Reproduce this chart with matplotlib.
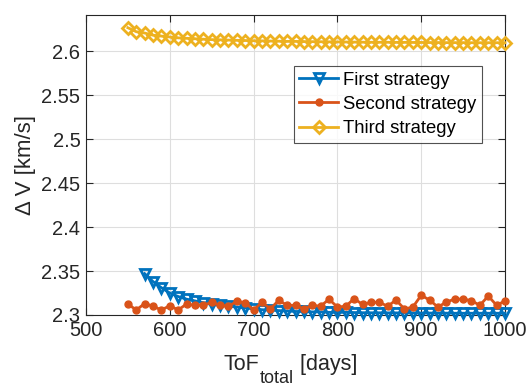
import matplotlib
matplotlib.use("Agg")
import matplotlib.pyplot as plt
import numpy as np

plt.rcParams['font.family'] = ['Liberation Sans', 'DejaVu Sans']

tof_first = list(range(570, 1001, 10))
dv_first = [2.347, 2.338, 2.331, 2.325, 2.321, 2.318, 2.316, 2.314, 2.312, 2.311,
            2.310, 2.309, 2.308, 2.307, 2.306, 2.3055, 2.305, 2.3045, 2.304, 2.304,
            2.3035, 2.3035, 2.303, 2.303, 2.303, 2.3028, 2.3026, 2.3025, 2.3025, 2.3024,
            2.3024, 2.3023, 2.3023, 2.3022, 2.3022, 2.3021, 2.3021, 2.302, 2.302, 2.302,
            2.302, 2.302, 2.302, 2.302]

tof_second = list(range(550, 1001, 10))
dv_second = [2.3125, 2.3057, 2.313, 2.310, 2.3057, 2.3106, 2.3057, 2.3125, 2.311, 2.311,
             2.3144, 2.311, 2.310, 2.3155, 2.314, 2.3057, 2.3144, 2.307, 2.3167, 2.311,
             2.311, 2.3068, 2.311, 2.310, 2.318, 2.309, 2.310, 2.3186, 2.312, 2.3144,
             2.3144, 2.310, 2.317, 2.3068, 2.309, 2.3224, 2.317, 2.309, 2.3148, 2.318,
             2.318, 2.3163, 2.311, 2.3216, 2.311, 2.316]

tof_third = list(range(550, 1001, 10))
dv_third = [2.6265, 2.622, 2.6205, 2.618, 2.617, 2.616, 2.615, 2.6145, 2.614, 2.6135,
            2.613, 2.6128, 2.6125, 2.6122, 2.612, 2.6118, 2.6116, 2.6114, 2.6112, 2.611,
            2.611, 2.6108, 2.6107, 2.6106, 2.6105, 2.6104, 2.6103, 2.6102, 2.6101, 2.61,
            2.61, 2.61, 2.6099, 2.6099, 2.6098, 2.6098, 2.6097, 2.6097, 2.6096, 2.6096,
            2.6096, 2.6095, 2.6095, 2.6095, 2.6095, 2.6095]

x_ticks = [500, 600, 700, 800, 900, 1000]
y_ticks = [2.3, 2.35, 2.4, 2.45, 2.5, 2.55, 2.6]
y_tick_labels = ['2.3', '2.35', '2.4', '2.45', '2.5', '2.55', '2.6']

c1, c2, c3 = '#0072BD', '#D95319', '#EDB120'
tc = '#262626'

W, H = 528, 387
fig = plt.figure(figsize=(W/100, H/100), dpi=100)
ax = fig.add_axes([86/W, 1 - 315/H, 419/W, 300/H])

ax.plot(tof_first, dv_first, color=c1, lw=2, marker='v', ms=7, mfc='none', mew=2,
        label='First strategy', clip_on=False, zorder=3)
ax.plot(tof_second, dv_second, color=c2, lw=2, marker='o', ms=5, mfc=c2, mew=1,
        label='Second strategy', clip_on=False, zorder=4)
ax.plot(tof_third, dv_third, color=c3, lw=2, marker='D', ms=6, mfc='none', mew=2,
        label='Third strategy', clip_on=False, zorder=3)

ax.set_xlim(500, 1000)
ax.set_ylim(2.3, 2.641)
ax.set_xticks(x_ticks)
ax.set_yticks(y_ticks)
ax.set_yticklabels(y_tick_labels)
ax.grid(True, color='#dedede', lw=0.8)
ax.set_axisbelow(True)
ax.tick_params(direction='in', top=True, right=True, labelsize=14.5, length=5,
               color=tc, labelcolor=tc, pad=4)
for s in ax.spines.values():
    s.set_color(tc)
    s.set_linewidth(0.8)

ax.set_ylabel('Δ V [km/s]', fontsize=16, color=tc, labelpad=4)

# x label built from pieces (MATLAB-style large subscript)
fig.canvas.draw()
r = fig.canvas.get_renderer()
y_base = 1 - 370/H
t1 = fig.text(223/W, y_base, 'ToF', fontsize=15.5, color=tc, va='baseline', ha='left')
bb = t1.get_window_extent(r)
t2 = fig.text((bb.x1 + 1)/W, 1 - 383/H, 'total', fontsize=13, color=tc, va='baseline', ha='left')
bb2 = t2.get_window_extent(r)
t3 = fig.text((bb2.x1)/W, y_base, ' [days]', fontsize=15.5, color=tc, va='baseline', ha='left')

leg = ax.legend(loc='upper left', bbox_to_anchor=(0.496, 0.83), fontsize=13.3,
                frameon=True, fancybox=False, edgecolor=tc, handlelength=2.1,
                borderpad=0.3, labelspacing=0.4, handletextpad=0.25, borderaxespad=0)
leg.get_frame().set_linewidth(0.8)

fig.savefig('out.png', dpi=100)
